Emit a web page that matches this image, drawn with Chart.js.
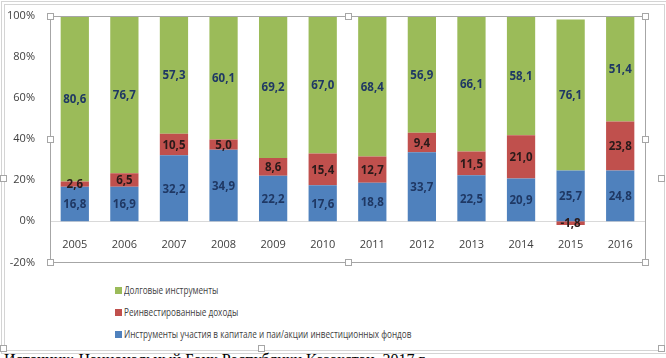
<!DOCTYPE html>
<html>
<head>
<meta charset="utf-8">
<script src="https://cdn.jsdelivr.net/npm/chart.js@4/dist/chart.umd.min.js"></script>
<style>
  html, body { margin: 0; padding: 0; background: #fff; overflow: hidden; }
  body { width: 666px; height: 358px; position: relative; font-family: "Open Sans", "Noto Sans", sans-serif; }
  .frame { position: absolute; left: 1px; top: 1px; width: 659px; height: 345px; border: 4px double #d4d4d4; }
  .chart-box { position: absolute; left: 0; top: 0; width: 666px; height: 276px; }
  .legend { position: absolute; left: 115px; top: 279px; font-size: 11.5px; color: #404040; }
  .legend__item { height: 22px; line-height: 16px; white-space: nowrap; display: flex; align-items: center; }
  .legend__swatch { width: 7px; height: 7px; margin-right: 2px; flex: none; }
  .legend__text { display: inline-block; transform-origin: left center; transform: scaleX(0.71); }
  .caption { position: absolute; left: 4px; top: 351px; font: 16px "Liberation Serif", serif; color: #000; white-space: nowrap; }
  .handle { position: absolute; width: 5px; height: 5px; background: #fff; border: 1px solid #a6a6a6; }
</style>
</head>
<body>
<div class="frame"></div>
<div class="chart-box"><canvas id="chart" width="666" height="276"></canvas></div>
<div class="legend" id="legend"></div>
<div class="caption">Источник: Национальный Банк Республики Казахстан, 2017 г.</div>
<div class="handle" style="left:0px;top:175px"></div>
<div class="handle" style="left:658px;top:175px"></div>
<div class="handle" style="left:258px;top:345px"></div>
<div class="handle" style="left:658px;top:345px"></div>
<div class="handle" style="left:0px;top:345px"></div>
<script>
const years = ['2005', '2006', '2007', '2008', '2009', '2010', '2011', '2012', '2013', '2014', '2015', '2016'];
const equity = [16.8, 16.9, 32.2, 34.9, 22.2, 17.6, 18.8, 33.7, 22.5, 20.9, 25.7, 24.8];
const reinvested = [2.6, 6.5, 10.5, 5.0, 8.6, 15.4, 12.7, 9.4, 11.5, 21.0, -1.8, 23.8];
const debt = [80.6, 76.7, 57.3, 60.1, 69.2, 67.0, 68.4, 56.9, 66.1, 58.1, 76.1, 51.4];
const yTicks = [-20, 0, 20, 40, 60, 80, 100];

const seriesDefs = [
  { label: 'Инструменты участия в капитале и паи/акции инвестиционных фондов', values: equity, color: '#4F81BD', text: '#1F3864' },
  { label: 'Реинвестированные доходы', values: reinvested, color: '#C0504D', text: '#2a1a1a' },
  { label: 'Долговые инструменты', values: debt, color: '#9BBB59', text: '#1F3864' },
];

// 100% stacked like Excel: share of the sum of absolute values
const totals = years.map((_, i) => seriesDefs.reduce((s, d) => s + Math.abs(d.values[i]), 0));

const fmt = v => v.toFixed(1).replace('.', ',');

const labelsPlugin = {
  id: 'barLabels',
  afterDatasetsDraw(chart) {
    const { ctx } = chart;
    ctx.save();
    ctx.font = 'bold 11.5px "Open Sans", "Noto Sans", sans-serif';
    ctx.textAlign = 'center';
    ctx.textBaseline = 'middle';
    chart.data.datasets.forEach((ds, di) => {
      const meta = chart.getDatasetMeta(di);
      meta.data.forEach((bar, i) => {
        ctx.fillStyle = seriesDefs[di].text;
        ctx.fillText(fmt(ds.raw[i]), bar.x, (bar.y + bar.base) / 2 + 1);
      });
    });
    ctx.restore();
  },
};

const framePlugin = {
  id: 'plotFrame',
  afterDraw(chart) {
    const { ctx, chartArea: a } = chart;
    ctx.save();
    ctx.strokeStyle = '#a6a6a6';
    ctx.lineWidth = 1;
    ctx.strokeRect(Math.round(a.left) + 0.5, Math.round(a.top) + 0.5, Math.round(a.right - a.left), Math.round(a.bottom - a.top));
    const xs = [a.left, (a.left + a.right) / 2, a.right];
    const ys = [a.top, (a.top + a.bottom) / 2, a.bottom];
    xs.forEach((x, xi) => ys.forEach((y, yi) => {
      if (xi === 1 && yi === 1) return;
      ctx.fillStyle = '#fff';
      ctx.fillRect(Math.round(x) - 3, Math.round(y) - 3, 6, 6);
      ctx.strokeRect(Math.round(x) - 2.5, Math.round(y) - 2.5, 6, 6);
    }));
    ctx.restore();
  },
};

new Chart(document.getElementById('chart').getContext('2d'), {
  type: 'bar',
  data: {
    labels: years,
    datasets: seriesDefs.map(d => ({
      label: d.label,
      raw: d.values,
      data: d.values.map((v, i) => v / totals[i] * 100),
      backgroundColor: d.color,
      barPercentage: 0.57,
      categoryPercentage: 1,
    })),
  },
  options: {
    responsive: false,
    animation: false,
    devicePixelRatio: 1,
    layout: { padding: { top: 16, right: 21, bottom: 1, left: 0 } },
    plugins: { legend: { display: false }, tooltip: { enabled: false } },
    scales: {
      x: {
        stacked: true,
        position: { y: 0 },
        grid: { display: false },
        border: { color: '#d9d9d9' },
        ticks: { color: '#404040', font: { size: 11, family: '"Open Sans", "Noto Sans", sans-serif' }, padding: 9, maxRotation: 0, autoSkip: false },
      },
      y: {
        stacked: true,
        min: -20,
        max: 100,
        afterBuildTicks: scale => { scale.ticks = yTicks.map(v => ({ value: v })); },
        afterFit: scale => { scale.width = 50; },
        grid: { display: false },
        border: { color: '#868686' },
        ticks: { color: '#404040', font: { size: 11, family: '"Open Sans", "Noto Sans", sans-serif' }, padding: 7, callback: v => v + '%' },
      },
    },
  },
  plugins: [labelsPlugin, framePlugin],
});

// vertical legend, top item is the top series
const legend = document.getElementById('legend');
seriesDefs.slice().reverse().forEach(d => {
  const item = document.createElement('div');
  item.className = 'legend__item';
  const sw = document.createElement('span');
  sw.className = 'legend__swatch';
  sw.style.background = d.color;
  const tx = document.createElement('span');
  tx.className = 'legend__text';
  tx.textContent = d.label;
  item.append(sw, tx);
  legend.appendChild(item);
});
</script>
</body>
</html>
